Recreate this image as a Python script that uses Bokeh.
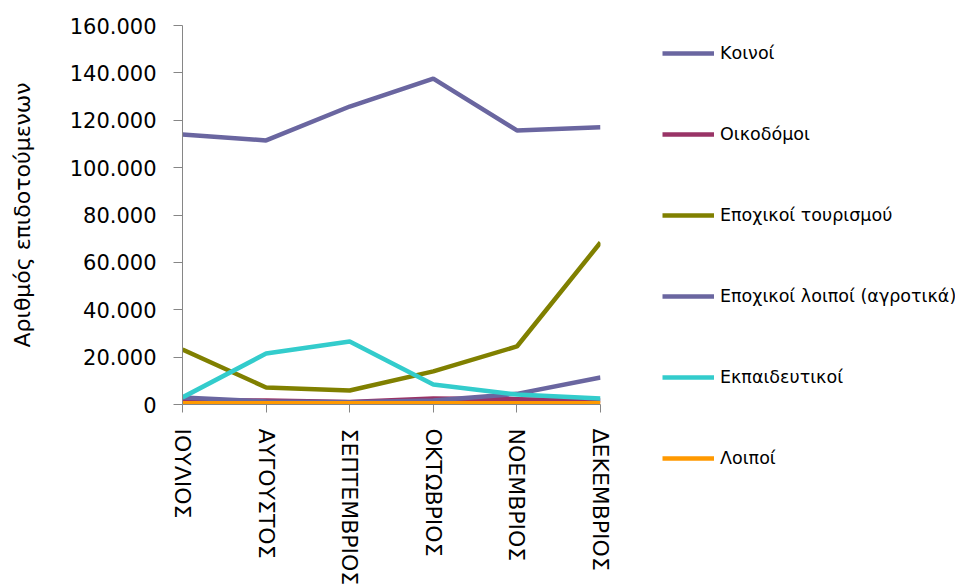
from bokeh.plotting import figure
from bokeh.models import Range1d, FixedTicker, Legend, LegendItem
from bokeh.embed import file_html
from bokeh.resources import INLINE

months = ["ΙΟΥΛΙΟΣ", "ΑΥΓΟΥΣΤΟΣ", "ΣΕΠΤΕΜΒΡΙΟΣ", "ΟΚΤΩΒΡΙΟΣ", "ΝΟΕΜΒΡΙΟΣ", "ΔΕΚΕΜΒΡΙΟΣ"]
koinoi = [114000, 111500, 125800, 137600, 115700, 117000]
oikodomoi = [1800, 1700, 1100, 2500, 2200, 1700]
tourismou = [23200, 7200, 5900, 14000, 24500, 68400]
agrotika = [3000, 1300, 1000, 1700, 4500, 11400]
ekpaideutikoi = [3000, 21500, 26600, 8400, 4200, 2500]
loipoi = [500, 500, 500, 500, 500, 500]

series_names = ["Κοινοί", "Οικοδόμοι", "Εποχικοί τουρισμού",
                "Εποχικοί λοιποί (αγροτικά)", "Εκπαιδευτικοί", "Λοιποί"]
series_values = [koinoi, oikodomoi, tourismou, agrotika, ekpaideutikoi, loipoi]
series_colors = ["#6A66A0", "#993366", "#808000", "#6A66A0", "#33CCCC", "#FF9900"]

y_ticks = [0, 20000, 40000, 60000, 80000, 100000, 120000, 140000, 160000]
y_tick_labels = ["0", "20.000", "40.000", "60.000", "80.000", "100.000",
                 "120.000", "140.000", "160.000"]

x = list(range(len(months)))

p = figure(frame_width=418, frame_height=379, output_backend="svg", toolbar_location=None,
           x_range=Range1d(0, len(months) - 1), y_range=Range1d(0, 160000),
           min_border_left=182, min_border_right=0, min_border_top=25,
           min_border_bottom=181)
p.outline_line_color = None
p.grid.visible = False
p.background_fill_color = "white"
p.border_fill_color = "white"

items = []
for name, vals, col in zip(series_names, series_values, series_colors):
    r = p.line(x, vals, line_color=col, line_width=4.5)
    items.append(LegendItem(label=name, renderers=[r]))

font = "DejaVu Sans"

p.yaxis.ticker = FixedTicker(ticks=y_ticks)
p.yaxis.major_label_overrides = dict(zip(y_ticks, y_tick_labels))
p.yaxis.axis_label = "Αριθμός επιδοτούμενων"
p.yaxis.axis_label_text_font = font
p.yaxis.axis_label_text_font_style = "normal"
p.yaxis.axis_label_text_font_size = "22px"
p.yaxis.axis_label_text_color = "#000000"
p.yaxis.axis_label_standoff = 32
p.yaxis.major_label_text_font = font
p.yaxis.major_label_text_font_size = "21px"
p.yaxis.major_label_text_color = "#000000"
p.yaxis.major_label_standoff = 17
p.yaxis.minor_tick_line_color = None
p.yaxis.major_tick_in = 0
p.yaxis.major_tick_out = 9

p.xaxis.ticker = FixedTicker(ticks=x)
p.xaxis.major_label_overrides = dict(zip(x, months))
p.xaxis.major_label_orientation = "vertical"
p.xaxis.major_label_text_font = font
p.xaxis.major_label_text_font_size = "22px"
p.xaxis.major_label_text_color = "#000000"
p.xaxis.major_label_standoff = 16
p.xaxis.minor_tick_line_color = None
p.xaxis.major_tick_in = 0
p.xaxis.major_tick_out = 8

for ax in (p.xaxis, p.yaxis):
    ax.axis_line_color = "#868686"
    ax.major_tick_line_color = "#868686"

legend = Legend(items=items, location=(62, -64), orientation="vertical",
                label_text_font=font, label_text_font_size="17.5px",
                label_text_color="#000000",
                glyph_width=52, glyph_height=20, label_height=20,
                label_standoff=6, spacing=61, padding=0, margin=0,
                border_line_color=None, background_fill_alpha=0)
p.add_layout(legend, "right")

open("out.html", "w").write(file_html(p, INLINE))
